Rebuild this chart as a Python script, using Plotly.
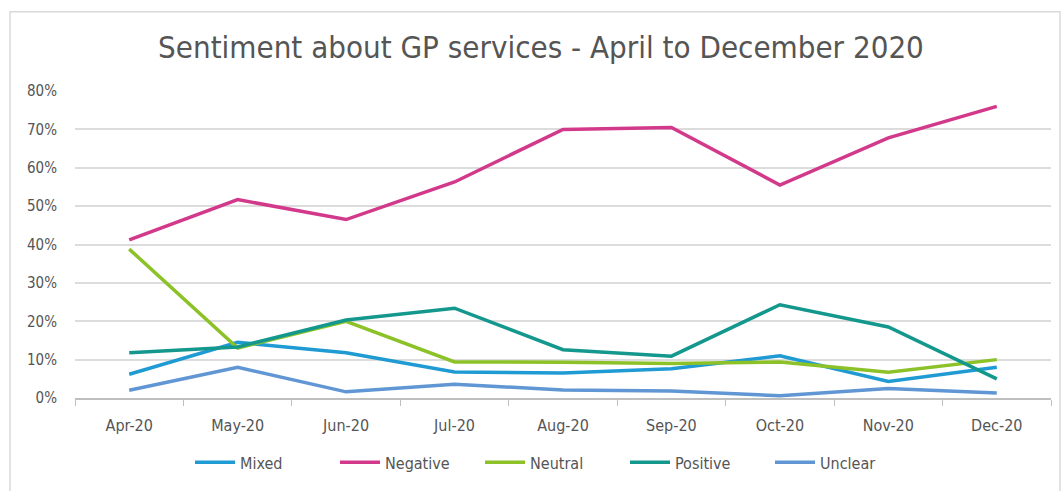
import plotly.graph_objects as go

months = ["Apr-20", "May-20", "Jun-20", "Jul-20", "Aug-20", "Sep-20", "Oct-20", "Nov-20", "Dec-20"]

mixed = [0.062, 0.145, 0.118, 0.068, 0.065, 0.076, 0.110, 0.043, 0.080]
negative = [0.412, 0.517, 0.465, 0.563, 0.700, 0.705, 0.555, 0.678, 0.760]
neutral = [0.388, 0.130, 0.200, 0.094, 0.093, 0.090, 0.094, 0.067, 0.100]
positive = [0.118, 0.133, 0.203, 0.234, 0.126, 0.109, 0.243, 0.185, 0.050]
unclear = [0.020, 0.080, 0.016, 0.036, 0.021, 0.018, 0.006, 0.025, 0.013]

series = [
    ("Mixed", mixed, "#1f9ad3"),
    ("Negative", negative, "#d3398a"),
    ("Neutral", neutral, "#8cc228"),
    ("Positive", positive, "#14978c"),
    ("Unclear", unclear, "#6096d4"),
]

FONT = "DejaVu Sans Condensed, DejaVu Sans, sans-serif"
GREY = "#555555"

fig = go.Figure()
for name, vals, color in series:
    fig.add_trace(go.Scatter(
        x=months, y=vals, name=name, mode="lines",
        line=dict(color=color, width=3.5),
    ))

fig.update_layout(
    width=1064, height=491,
    margin=dict(l=75, r=13, t=91, b=90),
    paper_bgcolor="white", plot_bgcolor="white",
    font=dict(family=FONT, color=GREY, size=14),
    title=dict(
        text="Sentiment about GP services - April to December 2020",
        x=541 / 1064, xanchor="center", xref="container",
        y=1 - 47 / 491, yref="container", yanchor="middle",
        font=dict(family=FONT, size=31, color=GREY),
    ),
    showlegend=True,
    legend=dict(
        orientation="h", x=(190 - 75) / 976, xanchor="left",
        y=-0.21, yanchor="middle",
        font=dict(family=FONT, size=16, color=GREY),
        bgcolor="rgba(0,0,0,0)",
        itemwidth=40, tracegroupgap=0,
        entrywidth=90, entrywidthmode="pixels",
    ),
    xaxis=dict(
        type="category", range=[-0.5, 8.5], showgrid=False,
        showline=True, linecolor="#bfbfbf", linewidth=1.5,
        ticks="outside", tickson="boundaries", ticklen=6, tickcolor="#bfbfbf",
        ticklabelstandoff=12,
        tickfont=dict(size=16, color=GREY),
        fixedrange=True,
    ),
    yaxis=dict(
        range=[0, 0.8], dtick=0.1, tickformat=".0%",
        showgrid=True, gridcolor="#dcdcdc", gridwidth=1.5,
        zeroline=False, showline=False,
        ticks="", ticklabelstandoff=17,
        tickfont=dict(size=15, color=GREY),
        fixedrange=True,
    ),
    shapes=[dict(
        type="rect", xref="paper", yref="paper",
        x0=(10 - 75) / 976, x1=(1060 - 75) / 976,
        y0=(401 - 500) / 310, y1=(401 - 11) / 310,
        line=dict(color="#d9d9d9", width=1.5), fillcolor="rgba(0,0,0,0)",
        layer="below",
    )],
)

fig.write_html("out.html")
